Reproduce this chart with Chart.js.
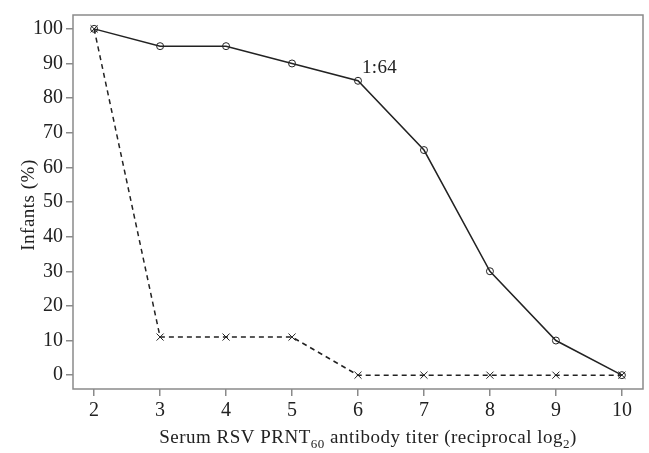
<!DOCTYPE html>
<html>
<head>
<meta charset="utf-8">
<script src="https://cdn.jsdelivr.net/npm/chart.js@4"></script>
<style>
html,body{margin:0;padding:0;background:#fff;}
#wrap{width:649px;height:453px;}
</style>
</head>
<body>
<div id="wrap"><canvas id="c" width="649" height="453"></canvas></div>
<script>
const titers = [2, 3, 4, 5, 6, 7, 8, 9, 10];
const solidSeries = [100, 95, 95, 90, 85, 65, 30, 10, 0];
const dashedSeries = [100, 11, 11, 11, 0, 0, 0, 0, 0];
const xTicks = [2, 3, 4, 5, 6, 7, 8, 9, 10];
const yTicks = [0, 10, 20, 30, 40, 50, 60, 70, 80, 90, 100];
const annotation = {x: 6, y: 85, text: '1:64'};

const FONT = "'Liberation Serif', 'DejaVu Serif', serif";
const AXIS = '#8a8a8a';
const INK = '#222';

const boxPlugin = {
  id: 'box',
  afterDraw(chart) {
    const {ctx, chartArea: a, scales} = chart;
    ctx.save();
    ctx.strokeStyle = AXIS;
    ctx.lineWidth = 1.5;
    ctx.strokeRect(a.left, a.top, a.right - a.left, a.bottom - a.top);
    // annotation
    ctx.fillStyle = INK;
    ctx.font = "19px " + FONT;
    ctx.textAlign = 'left';
    ctx.textBaseline = 'alphabetic';
    ctx.letterSpacing = '0.3px';
    const px = scales.x.getPixelForValue(annotation.x);
    const py = scales.y.getPixelForValue(annotation.y);
    ctx.fillText(annotation.text, px + 4, py - 8);
    // x title with subscripts
    const parts = [
      ['Serum RSV PRNT', false], ['60', true], [' antibody titer (reciprocal log', false], ['2', true], [')', false]
    ];
    const big = "19px " + FONT, small = "13px " + FONT;
    ctx.letterSpacing = '0.5px';
    let w = 0;
    for (const [t, s] of parts) { ctx.font = s ? small : big; w += ctx.measureText(t).width; }
    let x = (a.left + a.right) / 2 - w / 2 + 10;
    const base = 443;
    for (const [t, s] of parts) {
      ctx.font = s ? small : big;
      ctx.fillText(t, x, s ? base + 5 : base);
      x += ctx.measureText(t).width;
    }
    // y title
    ctx.save();
    ctx.translate(29, 205);
    ctx.rotate(-Math.PI / 2);
    ctx.font = big;
    ctx.textAlign = 'center';
    ctx.textBaseline = 'middle';
    ctx.fillText('Infants (%)', 0, 0);
    ctx.restore();
    ctx.restore();
  }
};

new Chart(document.getElementById('c'), {
  type: 'line',
  data: {
    datasets: [
      {
        data: titers.map((t, i) => ({x: t, y: solidSeries[i]})),
        borderColor: INK, borderWidth: 1.5,
        pointStyle: 'circle', pointRadius: 3.5, pointBorderWidth: 1,
        pointBorderColor: INK, pointBackgroundColor: 'rgba(0,0,0,0)',
        tension: 0
      },
      {
        data: titers.map((t, i) => ({x: t, y: dashedSeries[i]})),
        borderColor: INK, borderWidth: 1.5, borderDash: [5, 4],
        pointStyle: 'crossRot', pointRadius: 5, pointBorderWidth: 1,
        pointBorderColor: INK, pointBackgroundColor: 'rgba(0,0,0,0)',
        tension: 0
      }
    ]
  },
  options: {
    responsive: false,
    animation: false,
    devicePixelRatio: 1,
    layout: {padding: {top: 11, right: 6, left: 0, bottom: 0}},
    plugins: {legend: {display: false}, tooltip: {enabled: false}},
    scales: {
      x: {
        type: 'linear', min: 1.68, max: 10.32,
        afterBuildTicks(s) { s.ticks = xTicks.map(v => ({value: v})); },
        afterFit(s) { s.height = 64; },
        grid: {drawOnChartArea: false, color: AXIS, tickLength: 7, lineWidth: 1.5},
        border: {display: false},
        ticks: {color: INK, font: {family: FONT, size: 20}, padding: 3, maxRotation: 0, autoSkip: false}
      },
      y: {
        type: 'linear', min: -4, max: 104,
        afterBuildTicks(s) { s.ticks = yTicks.map(v => ({value: v})); },
        afterFit(s) { s.width = 73; },
        grid: {drawOnChartArea: false, color: AXIS, tickLength: 7, lineWidth: 1.5},
        border: {display: false},
        ticks: {color: INK, font: {family: FONT, size: 20}, padding: 3, autoSkip: false}
      }
    }
  },
  plugins: [boxPlugin]
});
</script>
</body>
</html>
